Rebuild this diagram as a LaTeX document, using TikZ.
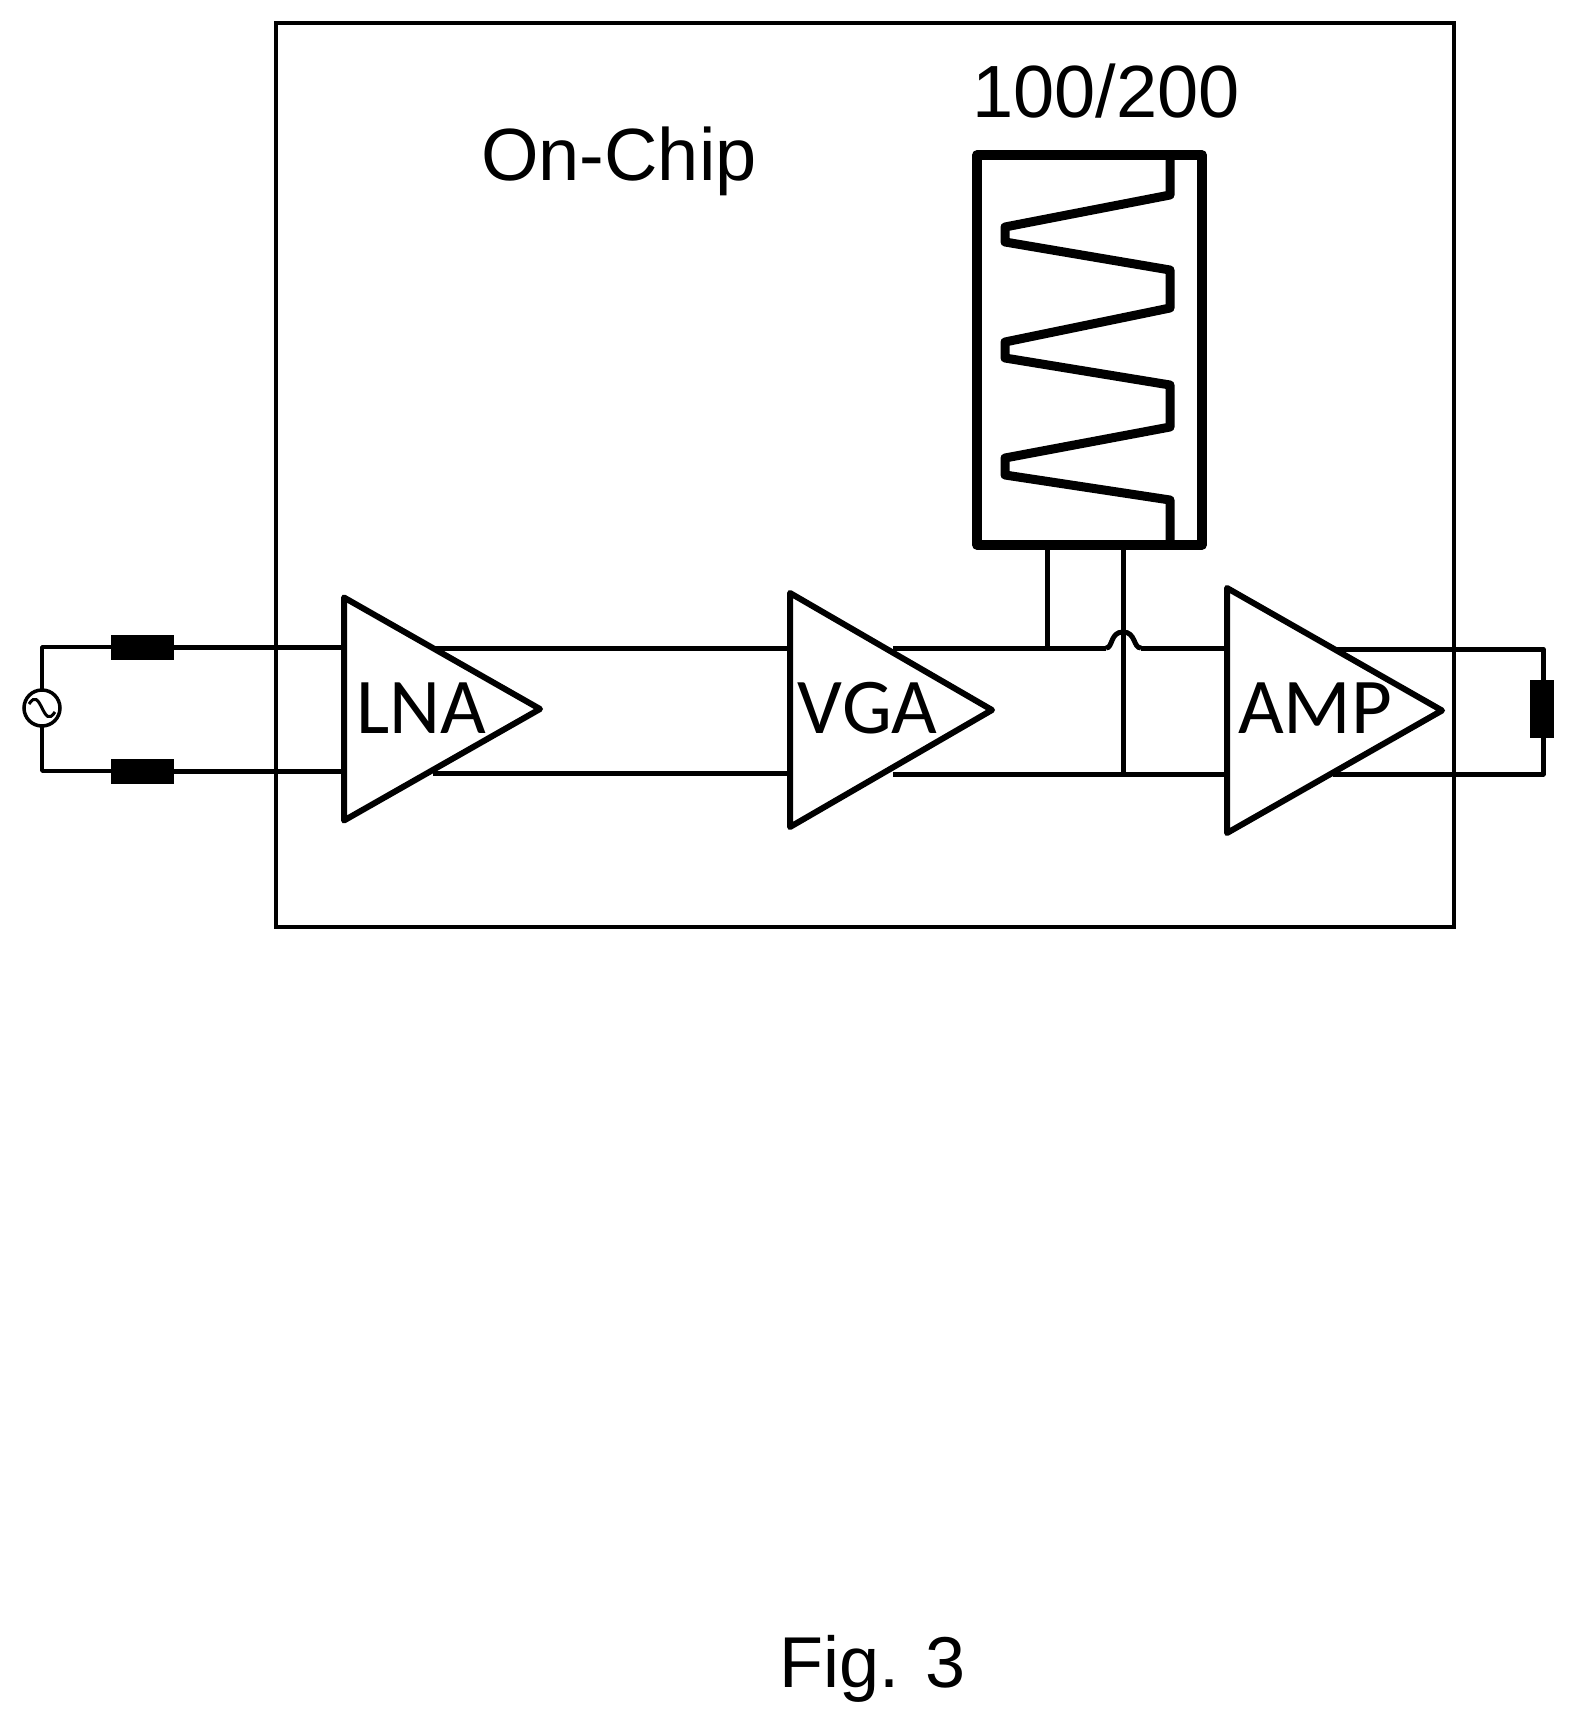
\documentclass[tikz,border=0pt]{standalone}
\usepackage{fontspec}
\setmainfont{Liberation Sans}
\newfontfamily\ampfont[Kerning=Off]{Carlito}
\usetikzlibrary{shapes.geometric}
\tikzset{
  amptri/.style={draw, line width=6pt, line join=round, isosceles triangle, isosceles triangle stretches, shape border rotate=0, inner sep=0pt, outer sep=0pt, anchor=apex},
  amptext/.style={font=\ampfont\fontsize{79}{79}\selectfont, inner sep=0pt, anchor=base west},
  bigtext/.style={font=\fontsize{74}{74}\selectfont, inner sep=0pt, anchor=base west},
  resbox/.style={draw, fill=black, line width=1pt, rectangle, inner sep=0pt, outer sep=0pt},
  wire/.style={line width=5pt},
  thinwire/.style={line width=3.5pt}
}
\begin{document}
\begin{tikzpicture}[x=1pt, y=-1pt]
  \useasboundingbox (0,0) rectangle (1574,1723);
  \node[draw, line width=4.5pt, rectangle, inner sep=0pt, outer sep=0pt, minimum width=1178pt, minimum height=904pt] (chip) at (865,475) {};
  \node[bigtext] (chiptext) at (481,181) {On-Chip};
  \node[bigtext] (blocktext) at (972,118) {100/200};
  \node[bigtext, font=\fontsize{72}{72}\selectfont] (figtext) at (779,1687) {Fig. 3};

  \node[draw, line width=9.5pt, line join=round, rectangle, inner sep=0pt, outer sep=0pt, minimum width=225pt, minimum height=390pt] (block) at (1089.5,350) {};
  \draw[line width=9pt, line join=round] (1170,155) -- (1170,195) -- (1005,227) -- (1005,242) -- (1170,270) -- (1170,308) -- (1005,342) -- (1005,358) -- (1170,385) -- (1170,427) -- (1005,458) -- (1005,475) -- (1170,500) -- (1170,545);

  \node[amptri, minimum height=196pt, minimum width=223pt] (lna) at (540,709) {};
  \node[amptri, minimum height=202pt, minimum width=234pt] (vga) at (992,710) {};
  \node[amptri, minimum height=215pt, minimum width=245pt] (amp) at (1442,710.5) {};
  \node[amptext] (lnatext) at (356,733) {LNA};
  \node[amptext] (vgatext) at (797,733) {VGA};
  \node[amptext] (amptext) at (1238,733) {AMP};

  \node[draw, line width=3.5pt, circle, inner sep=0pt, outer sep=0pt, minimum size=36pt] (src) at (42,708) {};
  \draw[line width=3pt] (29,704) .. controls (35,695) and (38,700) .. (42,708) .. controls (46,716) and (49,721) .. (55,712);
  \node[resbox, minimum width=62pt, minimum height=24pt] (rtop) at (142,647) {};
  \node[resbox, minimum width=62pt, minimum height=24pt] (rbot) at (142,771) {};
  \node[resbox, minimum width=23pt, minimum height=57pt] (rout) at (1541.5,708.5) {};

  \coordinate (lnaa) at (433,648);
  \coordinate (lnab) at (433,773);
  \coordinate (vgaa) at (893,648);
  \coordinate (vgab) at (893,774);
  \coordinate (ampa) at (1333,649);
  \coordinate (ampb) at (1333,774);
  \coordinate (hopa) at (1106,648);
  \coordinate (hopb) at (1141,648);
  \coordinate (tapa) at (1047,545);
  \coordinate (tapb) at (1123,545);
  \coordinate (cornera) at (1543,649);
  \coordinate (cornerb) at (1543,774);

  \draw[thinwire, line join=round] (src) |- (rtop.west);
  \draw[thinwire, line join=round] (src) |- (rbot.west);
  \path[wire]
  (rtop.east) edge (rtop.east -| lna.lower side)
  (rbot.east) edge (rbot.east -| lna.lower side)
  (lnaa) edge (lnaa -| vga.lower side)
  (lnab) edge (lnab -| vga.lower side)
  (vgaa) edge (hopa)
  (hopb) edge (hopb -| amp.lower side)
  (vgab) edge (vgab -| amp.lower side)
  (tapa) edge (tapa |- vgaa)
  (tapb) edge (tapb |- vgab)
  ;
  \draw[wire] (hopa) .. controls (1113,648) and (1110,632) .. (1123,632) .. controls (1136,632) and (1133,648) .. (hopb);
  \draw[wire, line join=round] (ampa) -- (cornera) -- (rout.north -| cornera);
  \draw[wire, line join=round] (ampb) -- (cornerb) -- (rout.south -| cornerb);
\end{tikzpicture}
\end{document}
